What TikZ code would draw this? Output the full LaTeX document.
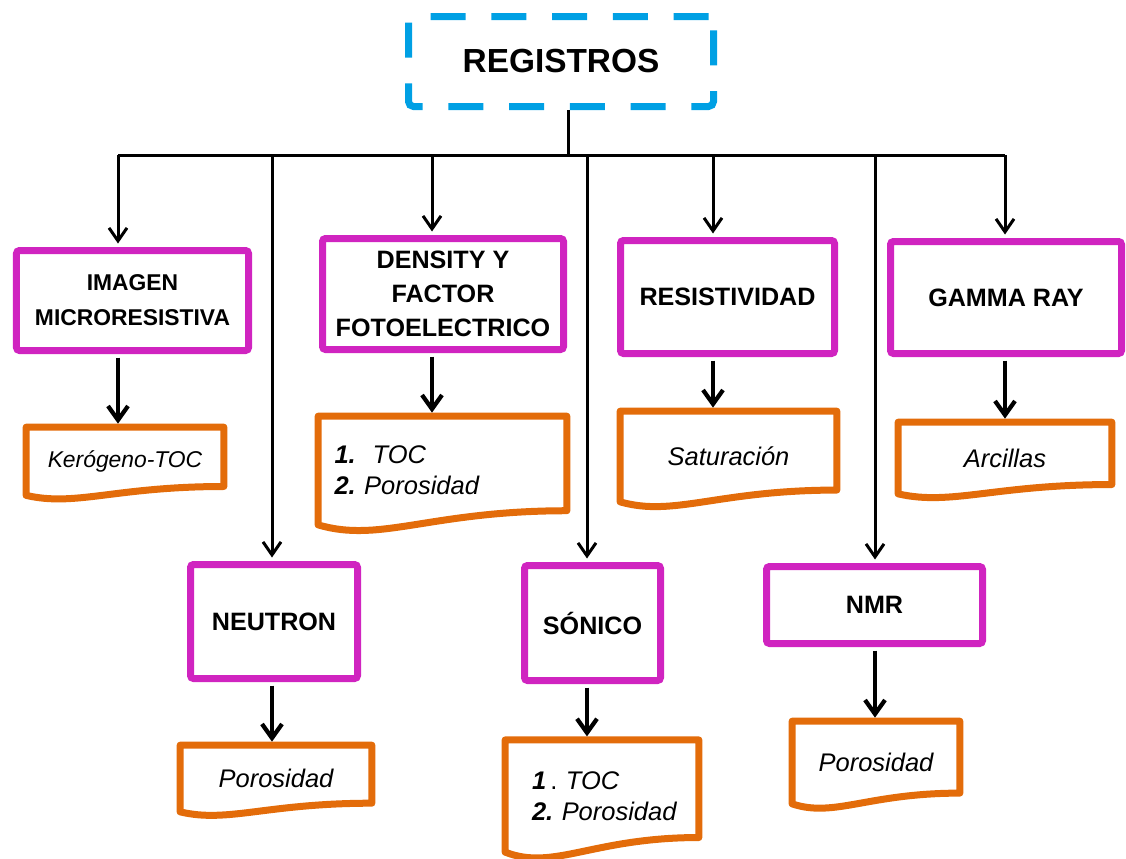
\documentclass[tikz,border=0pt]{standalone}
\usepackage{fontspec}
\setmainfont{Liberation Sans}
\usepackage{xcolor}
\definecolor{skyblue}{HTML}{00A0E4}
\definecolor{orchid}{HTML}{D024C0}
\definecolor{pumpkin}{HTML}{E36C0A}
\usepackage{tikz}
\usetikzlibrary{arrows.meta, calc}

% wavy document outline around a named node
\newcommand{\docshape}[1]{%
  \draw[docline] let \p1 = (#1.south west), \p2 = (#1.north east) in
    (\p1) -- (\x1,\y2) -- (\x2,\y2) -- (\x2,{\y1+0.13*(\y2-\y1)})
    .. controls ({\x1+0.45*(\x2-\x1)},{\y1+0.13*(\y2-\y1)})
            and ({\x1+0.25*(\x2-\x1)},{\y1-0.17*(\y2-\y1)}) .. (\p1) -- cycle;}

\begin{document}
\begin{tikzpicture}[x=0.2mm, y=-0.2mm,
  regbox/.style={draw=orchid, line width=1.4mm, rounded corners=0.6mm, fill=white,
    align=center, inner sep=0pt, font=\bfseries\fontsize{14.3pt}{19.3pt}\selectfont},
  docnode/.style={inner sep=0pt, font=\itshape\fontsize{14.5pt}{17.6pt}\selectfont},
  docline/.style={draw=pumpkin, line width=1.4mm, line join=round},
  busline/.style={line width=0.6mm},
  busarrow/.style={busline, -{Straight Barb[length=2.6mm, width=3.6mm]}, shorten >=0.7mm},
  downarrow/.style={line width=0.85mm, -{Straight Barb[length=2.8mm, width=4mm]},
    shorten <=0.7mm, shorten >=0.7mm}]
  \useasboundingbox (0,0) rectangle (1126,858);

  % Top box
  \node[draw=skyblue, line width=1.4mm, dash pattern=on 7mm off 5.15mm, rounded corners=1mm,
    minimum width=61mm, minimum height=18mm, inner sep=0pt,
    font=\bfseries\fontsize{19pt}{22pt}\selectfont] (registros) at (561,61.5) {REGISTROS};

  % First row of logs
  \node[regbox, minimum width=46.4mm, minimum height=20mm,
    font=\bfseries\fontsize{13pt}{19.8pt}\selectfont] (imagen) at (132.5,300.5) {IMAGEN\\MICRORESISTIVA};
  \node[regbox, minimum width=48.2mm, minimum height=22.2mm] (density) at (443,294) {DENSITY Y\\FACTOR\\FOTOELECTRICO};
  \node[regbox, minimum width=42.8mm, minimum height=22.6mm] (resistividad) at (727.5,297) {RESISTIVIDAD};
  \node[regbox, minimum width=46.2mm, minimum height=22.4mm] (gamma) at (1006,297.5) {GAMMA RAY};

  % Second row of logs
  \node[regbox, minimum width=33.4mm, minimum height=22.8mm] (neutron) at (274,621.5) {NEUTRON};
  \node[regbox, minimum width=27.2mm, minimum height=23mm] (sonico) at (592.5,623) {SÓNICO};
  \node[regbox, minimum width=43.2mm, minimum height=15.4mm] (nmr) at (874.5,605) {NMR};

  % Documents
  \node[docnode, minimum width=39.4mm, minimum height=13.5mm,
    font=\itshape\fontsize{13pt}{16pt}\selectfont] (kerogeno) at (125,461.25) {Kerógeno-TOC};
  \node[docnode, minimum width=49.6mm, minimum height=21.6mm, text width=43.2mm, align=left]
    (densdoc) at (442.5,470.5) {\textbf{1.}\ \ TOC\\\textbf{2.}~Porosidad};
  \node[docnode, minimum width=43.2mm, minimum height=18mm] (saturacion) at (728.5,456.5) {Saturación};
  \node[docnode, minimum width=42.6mm, minimum height=14.2mm] (arcillas) at (1005,458) {Arcillas};
  \node[docnode, minimum width=38.2mm, minimum height=13.2mm] (neutdoc) at (276,778.5) {Porosidad};
  \node[docnode, minimum width=38.6mm, minimum height=22.3mm, text width=28mm, align=left]
    (sonidoc) at (602,796) {\textbf{1}\,{\upshape.}\ TOC\\\mbox{\textbf{2.}~Porosidad}};
  \node[docnode, minimum width=33.4mm, minimum height=16.4mm] (nmrdoc) at (876,762.5) {Porosidad};

  \foreach \d in {kerogeno, densdoc, saturacion, arcillas, neutdoc, sonidoc, nmrdoc}
    \docshape{\d};

  % Bus and branches
  \coordinate (bus) at (568,155);
  \draw[busline] (registros.south -| bus) -- (bus);
  \foreach \n/\x in {imagen/118, neutron/272, density/432, sonico/587,
                     resistividad/713, nmr/875, gamma/1005} {
    \coordinate (bus-\n) at (\x,155);
    \draw[busarrow] (bus-\n) -- (bus-\n |- \n.north);
  }
  \draw[busline] (bus-imagen) -- (bus-gamma);

  % Logs to documents
  \foreach \n/\d in {imagen/kerogeno, density/densdoc, resistividad/saturacion, gamma/arcillas,
                     neutron/neutdoc, sonico/sonidoc, nmr/nmrdoc}
    \draw[downarrow] (bus-\n |- \n.south) -- (bus-\n |- \d.north);
\end{tikzpicture}
\end{document}
